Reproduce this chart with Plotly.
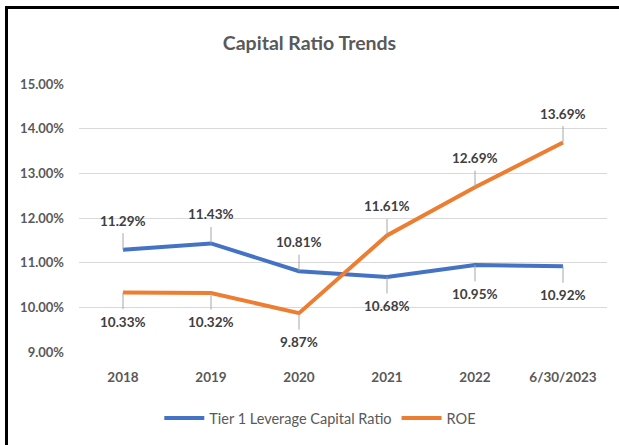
import plotly.graph_objects as go

categories = ["2018", "2019", "2020", "2021", "2022", "6/30/2023"]
tier1 = [11.29, 11.43, 10.81, 10.68, 10.95, 10.92]
roe = [10.33, 10.32, 9.87, 11.61, 12.69, 13.69]
tier1_label_pos = ["above", "above", "above", "below", "below", "below"]
roe_label_pos = ["below", "below", "below", "above", "above", "above"]
y_ticks = [9, 10, 11, 12, 13, 14, 15]

FONT = "Lato, Roboto, Arial"
TXT = "#595959"
BLUE = "#4472C4"
ORANGE = "#ED7D31"

fig = go.Figure()
fig.add_trace(go.Scatter(x=categories, y=tier1, mode="lines", name="Tier 1 Leverage Capital Ratio",
                         line=dict(color=BLUE, width=4)))
fig.add_trace(go.Scatter(x=categories, y=roe, mode="lines", name="ROE",
                         line=dict(color=ORANGE, width=4)))

annotations = []
for vals, poss in ((tier1, tier1_label_pos), (roe, roe_label_pos)):
    for i, (v, p) in enumerate(zip(vals, poss)):
        annotations.append(dict(
            x=i, y=v, xref="x", yref="y", text=f"<b>{v:.2f}%</b>",
            showarrow=True, arrowhead=0, arrowwidth=1, arrowcolor="#a6a6a6",
            ax=0, ay=-29 if p == "above" else 29, startstandoff=3,
            font=dict(family=FONT, size=13.5, color="#404040"),
        ))

W, H = 619, 445
L, R, T, B = 79, 12, 84, 93
pw, ph = W - L - R, H - T - B
def px(xp):
    return (xp - L) / pw
def py(yp):
    return (H - B - yp) / ph

shapes = [
    dict(type="line", xref="paper", yref="paper", x0=px(6.5), x1=px(6.5), y0=py(447), y1=py(6),
         line=dict(color="black", width=3)),
    dict(type="line", xref="paper", yref="paper", x0=px(5), x1=px(625), y0=py(7.5), y1=py(7.5),
         line=dict(color="black", width=3)),
]

fig.update_layout(
    width=W, height=H,
    margin=dict(l=L, r=R, t=T, b=B, autoexpand=False),
    paper_bgcolor="white", plot_bgcolor="white",
    title=dict(text="<b>Capital Ratio Trends</b>", x=0.5, xref="container", xanchor="center",
               y=1 - 43 / H, yanchor="middle", yref="container",
               font=dict(family=FONT, size=19.5, color=TXT)),
    font=dict(family=FONT, color=TXT),
    xaxis=dict(type="category", showgrid=False, showline=False, zeroline=False, automargin=False,
               tickfont=dict(family=FONT, size=13.5, color=TXT), ticks="", ticklabelstandoff=15,
               range=[-0.5, 5.5], tickprefix="<b>", ticksuffix="</b>"),
    yaxis=dict(range=[9, 15], tickvals=y_ticks, ticktext=[f"<b>{t:.2f}%</b>" for t in y_ticks],
               showgrid=True, gridcolor="#d9d9d9", gridwidth=1, zeroline=False, showline=False,
               automargin=False,
               tickfont=dict(family=FONT, size=13, color=TXT), ticks="", ticklabelstandoff=14),
    legend=dict(orientation="h", x=0.457, xanchor="center", y=py(418), yanchor="middle",
                font=dict(family=FONT, size=14.5, color=TXT), itemwidth=40, traceorder="normal"),
    showlegend=True,
    annotations=annotations,
    shapes=shapes,
)

fig.write_html("out.html", config={"displayModeBar": False},
               post_script="document.body.style.margin='0';")
